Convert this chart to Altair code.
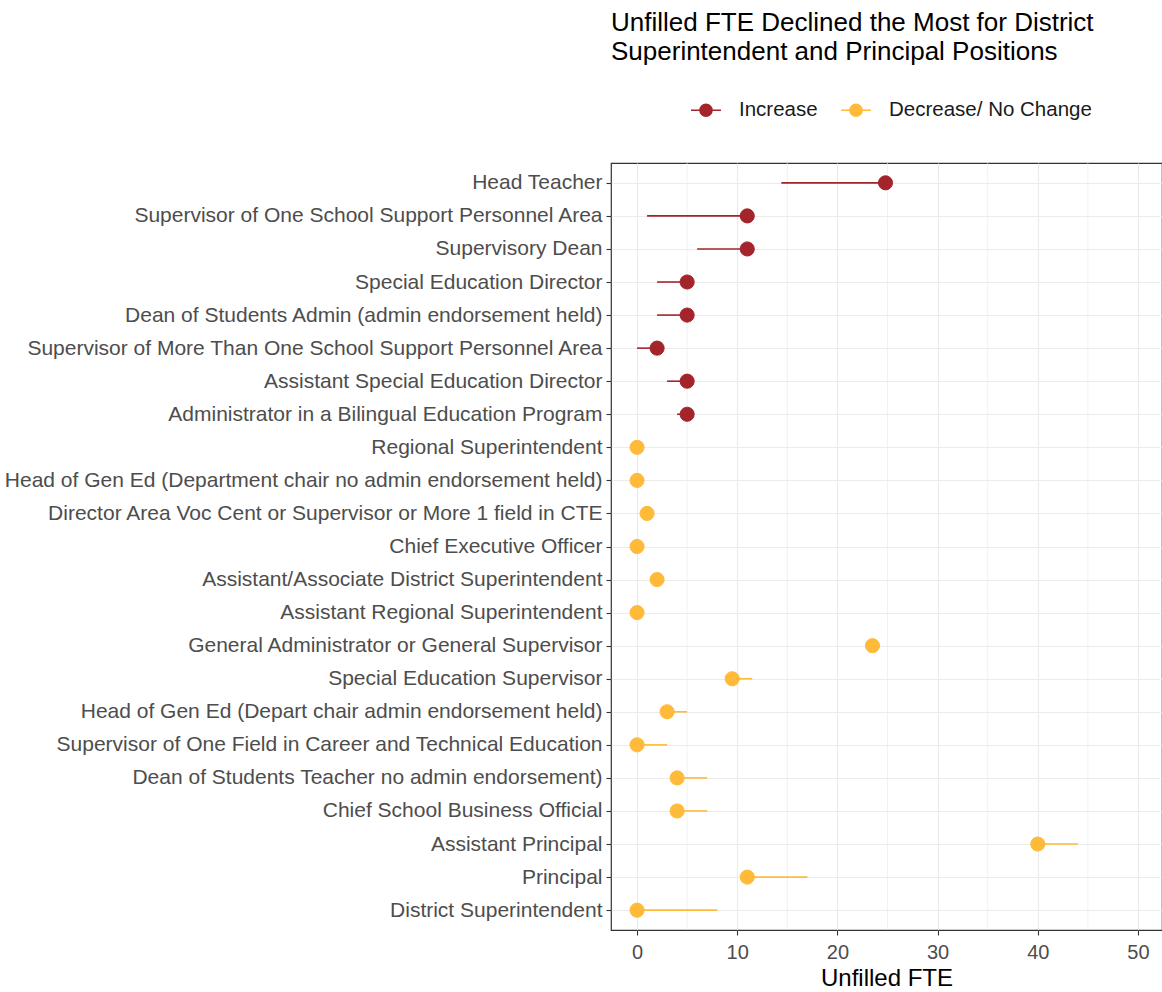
import altair as alt
import pandas as pd

positions = [
    "Head Teacher",
    "Supervisor of One School Support Personnel Area",
    "Supervisory Dean",
    "Special Education Director",
    "Dean of Students Admin (admin endorsement held)",
    "Supervisor of More Than One School Support Personnel Area",
    "Assistant Special Education Director",
    "Administrator in  a Bilingual Education Program",
    "Regional Superintendent",
    "Head of Gen Ed (Department chair no admin endorsement held)",
    "Director Area Voc Cent or Supervisor or More 1 field in CTE",
    "Chief Executive Officer",
    "Assistant/Associate District Superintendent",
    "Assistant Regional Superintendent",
    "General Administrator or General Supervisor",
    "Special Education Supervisor",
    "Head of Gen Ed (Depart chair admin endorsement held)",
    "Supervisor of One Field in Career and Technical Education",
    "Dean of Students Teacher no admin endorsement)",
    "Chief School Business Official",
    "Assistant Principal",
    "Principal",
    "District Superintendent",
]
fte_before = [14.4, 1, 6, 2, 2, 0, 3, 4,
              0, 0, 1, 0, 2, 0, 23.5, 11.5, 5, 3, 7, 7, 44, 17, 8]
fte_after = [24.8, 11, 11, 5, 5, 2, 5, 5,
             0, 0, 1, 0, 2, 0, 23.5, 9.5, 3, 0, 4, 4, 40, 11, 0]
change = ["Increase"] * 8 + ["Decrease/ No Change"] * 15

change_domain = ["Increase", "Decrease/ No Change"]
change_colors = ["#A3252B", "#FFBA39"]

x_major = [0, 10, 20, 30, 40, 50]
x_minor = [5, 15, 25, 35, 45]

df = pd.DataFrame({
    "Position": positions,
    "Before": fte_before,
    "After": fte_after,
    "Change": change,
})
minor_df = pd.DataFrame({"v": x_minor})

FONT = "Liberation Sans"
xscale = alt.Scale(domain=[-2.6, 52.4], nice=False, zero=False)
yscale = alt.Scale(type="point", padding=0.6)
sym_path = "M-1,0L1,0M0.4,0A0.4,0.4,0,1,1,-0.4,0A0.4,0.4,0,1,1,0.4,0Z"

legend = alt.Legend(
    title=None, orient="none", direction="horizontal",
    legendX=79, legendY=-69, padding=0,
    symbolType=sym_path, symbolSize=900, symbolStrokeWidth=1.6,
    labelFont=FONT, labelFontSize=20.5, labelColor="#1A1A1A", labelLimit=0,
    labelOffset=17, columnPadding=19,
)

minor = alt.Chart(minor_df).mark_rule(color="#EBEBEB", strokeWidth=0.7).encode(
    x=alt.X("v:Q", scale=xscale)
)

seg = alt.Chart(df).mark_rule(strokeWidth=1.6).encode(
    x=alt.X("Before:Q", scale=xscale),
    x2="After:Q",
    y=alt.Y("Position:N", sort=positions, scale=yscale),
    stroke=alt.Stroke("Change:N", scale=alt.Scale(domain=change_domain, range=change_colors), legend=legend),
)

pts = alt.Chart(df).mark_point(filled=True, opacity=1, size=200, strokeWidth=1).encode(
    x=alt.X("After:Q", scale=xscale,
            axis=alt.Axis(values=x_major, title="Unfilled FTE")),
    y=alt.Y("Position:N", sort=positions, scale=yscale,
            axis=alt.Axis(title=None, grid=True)),
    fill=alt.Fill("Change:N", scale=alt.Scale(domain=change_domain, range=change_colors), legend=legend),
    stroke=alt.Stroke("Change:N", scale=alt.Scale(domain=change_domain, range=change_colors), legend=legend),
)

chart = alt.layer(minor, seg, pts).properties(
    width=551, height=767,
    autosize="none",
    padding={"left": 611, "top": 163, "right": 0, "bottom": 60},
    title=alt.TitleParams(
        text=["Unfilled FTE Declined the Most for District",
              "Superintendent and Principal Positions"],
        anchor="start", frame="group", font=FONT, fontSize=26,
        fontWeight="normal", color="#000000", lineHeight=29, offset=29,
    ),
).configure_view(
    stroke="#333333", strokeWidth=1.2
).configure_axis(
    labelFont=FONT, labelFontSize=20, labelColor="#4D4D4D",
    titleFont=FONT, titleFontSize=24, titleColor="#000000", titleFontWeight="normal",
    gridColor="#EBEBEB", gridWidth=1.1, domain=False,
    tickColor="#333333", tickSize=5, tickWidth=1.1,
).configure_axisX(
    labelPadding=7, titlePadding=4,
).configure_axisY(
    labelPadding=4, labelLimit=0, labelFontSize=21,
)

chart.save("out.html", embed_options={"renderer": "svg", "actions": False})
